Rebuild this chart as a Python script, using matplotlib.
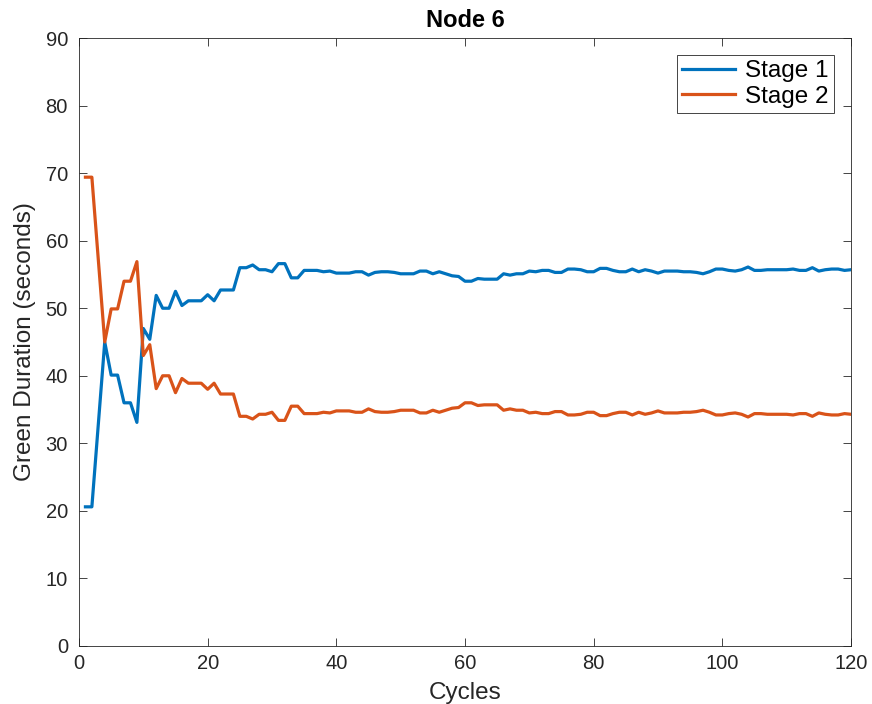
import matplotlib
matplotlib.use("Agg")
import matplotlib.pyplot as plt
import numpy as np

plt.rcParams['font.family'] = ['Liberation Sans', 'DejaVu Sans']

cycles = np.arange(1, 121)

# green duration per cycle (seconds)
stage1 = [
    20.6, 20.6, 32.8, 45.0, 40.1, 40.1, 36.0, 36.0, 33.1, 47.0,
    45.4, 51.9, 50.0, 50.0, 52.5, 50.4, 51.1, 51.1, 51.1, 52.0,
    51.1, 52.7, 52.7, 52.7, 56.0, 56.0, 56.4, 55.7, 55.7, 55.4,
    56.6, 56.6, 54.5, 54.5, 55.6, 55.6, 55.6, 55.4, 55.5, 55.2,
    55.2, 55.2, 55.4, 55.4, 54.9, 55.3, 55.4, 55.4, 55.3, 55.1,
    55.1, 55.1, 55.5, 55.5, 55.1, 55.4, 55.1, 54.8, 54.7, 54.0,
    54.0, 54.4, 54.3, 54.3, 54.3, 55.1, 54.9, 55.1, 55.1, 55.5,
    55.4, 55.6, 55.6, 55.3, 55.3, 55.8, 55.8, 55.7, 55.4, 55.4,
    55.9, 55.9, 55.6, 55.4, 55.4, 55.8, 55.4, 55.7, 55.5, 55.2,
    55.5, 55.5, 55.5, 55.4, 55.4, 55.3, 55.1, 55.4, 55.8, 55.8,
    55.6, 55.5, 55.7, 56.1, 55.6, 55.6, 55.7, 55.7, 55.7, 55.7,
    55.8, 55.6, 55.6, 56.0, 55.5, 55.7, 55.8, 55.8, 55.6, 55.7,
]
stage2 = [
    69.4, 69.4, 57.2, 45.0, 49.9, 49.9, 54.0, 54.0, 56.9, 43.0,
    44.6, 38.1, 40.0, 40.0, 37.5, 39.6, 38.9, 38.9, 38.9, 38.0,
    38.9, 37.3, 37.3, 37.3, 34.0, 34.0, 33.6, 34.3, 34.3, 34.6,
    33.4, 33.4, 35.5, 35.5, 34.4, 34.4, 34.4, 34.6, 34.5, 34.8,
    34.8, 34.8, 34.6, 34.6, 35.1, 34.7, 34.6, 34.6, 34.7, 34.9,
    34.9, 34.9, 34.5, 34.5, 34.9, 34.6, 34.9, 35.2, 35.3, 36.0,
    36.0, 35.6, 35.7, 35.7, 35.7, 34.9, 35.1, 34.9, 34.9, 34.5,
    34.6, 34.4, 34.4, 34.7, 34.7, 34.2, 34.2, 34.3, 34.6, 34.6,
    34.1, 34.1, 34.4, 34.6, 34.6, 34.2, 34.6, 34.3, 34.5, 34.8,
    34.5, 34.5, 34.5, 34.6, 34.6, 34.7, 34.9, 34.6, 34.2, 34.2,
    34.4, 34.5, 34.3, 33.9, 34.4, 34.4, 34.3, 34.3, 34.3, 34.3,
    34.2, 34.4, 34.4, 34.0, 34.5, 34.3, 34.2, 34.2, 34.4, 34.3,
]

fig = plt.figure(figsize=(8.72, 7.04), dpi=100)
ax = fig.add_axes([0.0906, 0.0824, 0.8853, 0.8636])

ax.plot(cycles, stage1, color='#0072BD', lw=2.3, label='Stage 1')
ax.plot(cycles, stage2, color='#D95319', lw=2.3, label='Stage 2')

ax.set_xlim(0, 120)
ax.set_ylim(0, 90)
ax.set_xticks(np.arange(0, 121, 20))
ax.set_yticks(np.arange(0, 91, 10))
ax.tick_params(direction='in', length=5.5, width=0.6, labelsize=14.5,
               top=True, right=True, colors='#262626')
ax.tick_params(axis='x', pad=6)
ax.tick_params(axis='y', pad=8)
for s in ax.spines.values():
    s.set_linewidth(0.6)
    s.set_color('#262626')

ax.set_xlabel('Cycles', fontsize=17.5, color='#262626', va='baseline')
ax.xaxis.set_label_coords(0.5, -0.0875)
ax.set_ylabel('Green Duration (seconds)', fontsize=17.5, color='#262626')
ax.yaxis.set_label_coords(-0.0557, 0.5)
ax.set_title('Node 6', fontsize=17, fontweight='bold', pad=8)

leg = ax.legend(loc='upper right', fontsize=17.5, fancybox=False, framealpha=1,
                edgecolor='#262626', handlelength=2.2, borderpad=0.22,
                labelspacing=0.14, handletextpad=0.4, borderaxespad=0.7)
leg.get_frame().set_linewidth(0.6)

fig.savefig('out.png', dpi=100)
